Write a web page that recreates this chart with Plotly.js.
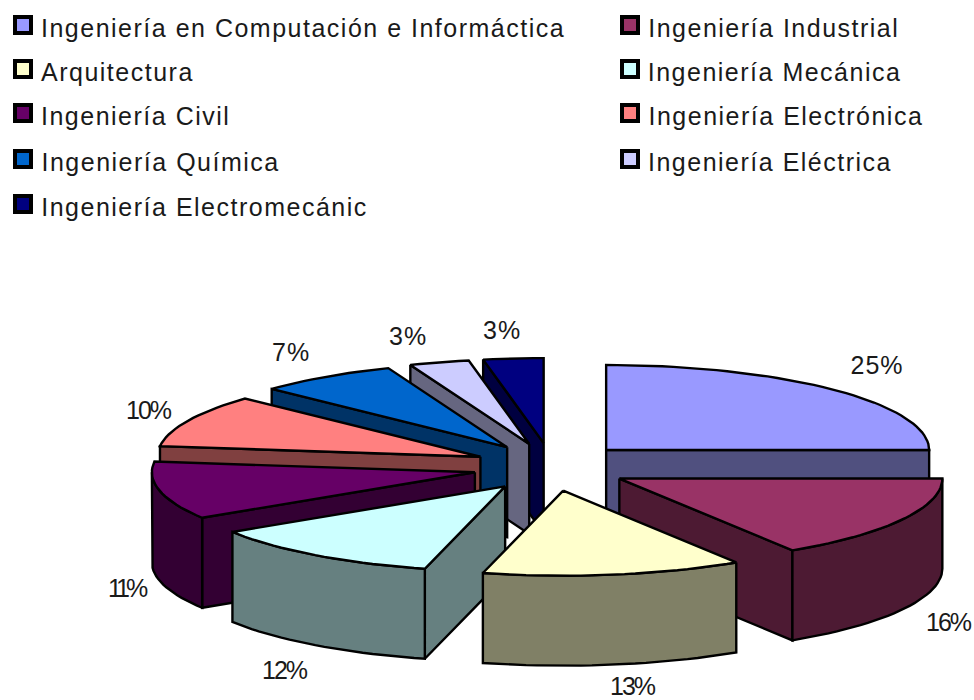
<!DOCTYPE html>
<html><head><meta charset="utf-8">
<script src="https://cdn.plot.ly/plotly-3.0.1.min.js"></script>
<style>html,body{margin:0;padding:0;background:#fff}#c{width:974px;height:700px}</style>
</head><body><div id="c"></div>
<script>
const categories = ["Ingeniería en Computación e Informáctica","Ingeniería Industrial","Arquitectura","Ingeniería Mecánica","Ingeniería Civil","Ingeniería Electrónica","Ingeniería Química","Ingeniería Eléctrica","Ingeniería Electromecánic"];
const values = [25,16,13,12,11,10,7,3,3];
const topColors = ["#9999FF","#993366","#FFFFCC","#CCFFFF","#660066","#FF8080","#0066CC","#CCCCFF","#000080"];
const sideColors = ["#50507F","#4D1A33","#808066","#668080","#330033","#804040","#003366","#666680","#000040"];
const drawOrder = [8,7,6,5,0,4,1,3,2];

// pie projection
const cx=551, cy=467, rx=323, ry=85, depth=90, explodeX=78, explodeY=24, outline=2.4;
const rad=d=>d*Math.PI/180;
const total=values.reduce((a,b)=>a+b,0);
let acc=0;
const slices=values.map((v,i)=>{const a=acc/total*360;acc+=v;const b=acc/total*360;const m=rad((a+b)/2);
  return {i,a,b,ax:cx+explodeX*Math.sin(m),ay:cy-explodeY*Math.cos(m)};});
const rim=(s,t)=>[s.ax+rx*Math.sin(rad(t)),s.ay-ry*Math.cos(rad(t))];
const traces=[];
function poly(pts,color){traces.push({type:'scatter',mode:'lines',x:pts.map(p=>p[0]),y:pts.map(p=>p[1]),
  fill:'toself',fillcolor:color,line:{color:'#000',width:outline,shape:'linear'},hoverinfo:'skip',showlegend:false});}
function arc(s,from,to){const out=[];const n=Math.max(2,Math.ceil(Math.abs(to-from)/2));
  for(let k=0;k<=n;k++)out.push(rim(s,from+(to-from)*k/n));return out;}
drawOrder.forEach(idx=>{const s=slices[idx];const side=sideColors[idx];
  const wall=t=>{const p=rim(s,t);poly([[s.ax,s.ay],p,[p[0],p[1]+depth],[s.ax,s.ay+depth],[s.ax,s.ay]],side);};
  if(Math.sin(rad(s.a))<-1e-6)wall(s.a);
  if(Math.sin(rad(s.b))>1e-6)wall(s.b);
  const f=Math.max(s.a,90),t=Math.min(s.b,270);
  if(t>f){const up=arc(s,f,t);const dn=up.slice().reverse().map(p=>[p[0],p[1]+depth]);poly(up.concat(dn,[up[0]]),side);}
  poly([[s.ax,s.ay]].concat(arc(s,s.a,s.b),[[s.ax,s.ay]]),topColors[idx]);
});

// legend swatches
const legendColX=[23,630], legendRowY=[28,72,116,162,207], tracking=1.5;
const lx=categories.map((c,i)=>legendColX[i<8?i%2:0]);
const ly=categories.map((c,i)=>legendRowY[Math.floor(i/2)]);
traces.push({type:'scatter',mode:'markers',x:lx,y:ly.map(y=>y-3),hoverinfo:'skip',showlegend:false,
  marker:{symbol:'square',size:16,color:topColors,line:{color:'#000',width:4}}});

// tracked text grows about its centre, so the box is moved by half the growth
const annotations=categories.map((c,i)=>({x:lx[i]+16+tracking*c.length/2,y:ly[i],text:c,xanchor:'left',yanchor:'middle',showarrow:false,
  font:{family:'Liberation Sans, Arial, sans-serif',size:25,color:'#1a1a1a'}}));
const labelX=[877,948,632,284,126,148,291,408,502], labelY=[365,622,686,670,588,410,352,336,330];
const labelSpacing=[1,-2,-2,-2,-4,-2,1,1,1];
values.forEach((v,i)=>annotations.push({x:labelX[i],y:labelY[i],text:v+'%',showarrow:false,xanchor:'center',yanchor:'middle',
  font:{family:'Liberation Sans, Arial, sans-serif',size:25,color:'#1a1a1a'}}));

const css=categories.map((c,i)=>`.annotation[data-index="${i}"] text{letter-spacing:${tracking}px}`)
  .concat(labelSpacing.map((sp,i)=>`.annotation[data-index="${i+categories.length}"] text{letter-spacing:${sp}px}`)).join('\n');
const st=document.createElement('style');st.textContent=css;document.head.appendChild(st);

const hidden={visible:false,fixedrange:true};
Plotly.newPlot('c',traces,{width:974,height:700,margin:{l:0,r:0,t:0,b:0},paper_bgcolor:'#fff',plot_bgcolor:'#fff',
  xaxis:Object.assign({range:[0,974]},hidden),yaxis:Object.assign({range:[700,0]},hidden),showlegend:false,annotations},
  {displayModeBar:false,staticPlot:true});
</script></body></html>
